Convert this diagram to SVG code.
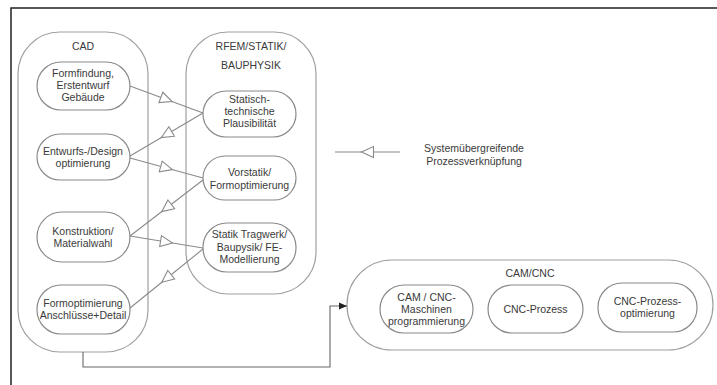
<svg xmlns="http://www.w3.org/2000/svg" width="717" height="385" viewBox="0 0 717 385">
<defs>
<style>
text{font-family:"Liberation Sans",Arial,sans-serif;font-size:10.5px;fill:#3a3a3a;text-anchor:middle}
.cont{fill:#fff;stroke:#a0a0a0;stroke-width:1.2}
.node{fill:#fff;stroke:#8a8a8a;stroke-width:1.2}
.conn{fill:none;stroke:#8a8a8a;stroke-width:1.1}
.flow{fill:none;stroke:#666;stroke-width:1.1}
</style>
<marker id="tri" viewBox="-8 -8 16 16" refX="0" refY="0" markerWidth="16" markerHeight="16" markerUnits="userSpaceOnUse" orient="auto">
<path d="M-6,-5.5 L6,0 L-6,5.5 Z" fill="#fff" stroke="#8a8a8a" stroke-width="1.1"/>
</marker>
<marker id="head" viewBox="0 -4 8 8" refX="8" refY="0" markerWidth="8" markerHeight="8" markerUnits="userSpaceOnUse" orient="auto">
<path d="M0,-3.5 L8,0 L0,3.5 Z" fill="#222"/>
</marker>
</defs>
<rect width="717" height="385" fill="#fff"/>
<path d="M11,385 V8 H717" fill="none" stroke="#222" stroke-width="1.5"/>

<g id="cad">
<rect class="cont" x="18" y="32" width="130" height="320" rx="42"/>
<text x="83" y="50">CAD</text>
</g>
<g id="rfem">
<rect class="cont" x="186" y="32" width="130" height="262" rx="42"/>
<text x="251" y="50">RFEM/STATIK/</text>
<text x="251" y="69">BAUPHYSIK</text>
</g>
<g id="camcnc">
<rect class="cont" x="347" y="260" width="366" height="90" rx="45"/>
<text x="530" y="277">CAM/CNC</text>
</g>

<g id="formfindung">
<rect class="node" x="37" y="62" width="93" height="48" rx="24"/>
<text x="83" y="77">Formfindung,</text>
<text x="83" y="89">Erstentwurf</text>
<text x="83" y="101">Gebäude</text>
</g>
<g id="entwurf">
<rect class="node" x="37" y="134" width="93" height="46" rx="23"/>
<text x="83" y="155">Entwurfs-/Design</text>
<text x="83" y="167">optimierung</text>
</g>
<g id="konstruktion">
<rect class="node" x="37" y="212" width="93" height="50" rx="25"/>
<text x="83" y="235">Konstruktion/</text>
<text x="83" y="247">Materialwahl</text>
</g>
<g id="formopt">
<rect class="node" x="37" y="285" width="93" height="49" rx="24"/>
<text x="83" y="307">Formoptimierung</text>
<text x="83" y="319">Anschlüsse+Detail</text>
</g>

<g id="statisch">
<rect class="node" x="203" y="91" width="93" height="46" rx="23"/>
<text x="249.5" y="103">Statisch-</text>
<text x="249.5" y="115">technische</text>
<text x="249.5" y="127">Plausibilität</text>
</g>
<g id="vorstatik">
<rect class="node" x="203" y="156" width="93" height="44" rx="22"/>
<text x="249.5" y="176">Vorstatik/</text>
<text x="249.5" y="189">Formoptimierung</text>
</g>
<g id="tragwerk">
<rect class="node" x="203" y="223" width="93" height="49" rx="24"/>
<text x="249.5" y="238">Statik Tragwerk/</text>
<text x="249.5" y="251">Baupysik/ FE-</text>
<text x="249.5" y="263">Modellierung</text>
</g>

<g id="cam">
<rect class="node" x="380" y="285" width="93" height="48" rx="24"/>
<text x="426.5" y="301">CAM / CNC-</text>
<text x="426.5" y="313">Maschinen</text>
<text x="426.5" y="325">programmierung</text>
</g>
<g id="cncprozess">
<rect class="node" x="488" y="285" width="95" height="48" rx="24"/>
<text x="535.5" y="313">CNC-Prozess</text>
</g>
<g id="cncopt">
<rect class="node" x="598" y="283" width="99" height="49" rx="24"/>
<text x="647.5" y="305">CNC-Prozess-</text>
<text x="647.5" y="317">optimierung</text>
</g>

<g id="legend">
<text x="474" y="152">Systemübergreifende</text>
<text x="474" y="165">Prozessverknüpfung</text>
</g>

<g id="connectors">
<path class="conn" marker-mid="url(#tri)" d="M130,86 L166.5,99.5 L203,113"/>
<path class="conn" marker-mid="url(#tri)" d="M203,113 L166.5,134.5 L130,156"/>
<path class="conn" marker-mid="url(#tri)" d="M130,158 L166.5,168 L203,178"/>
<path class="conn" marker-mid="url(#tri)" d="M203,180 L166.5,208 L130,236"/>
<path class="conn" marker-mid="url(#tri)" d="M130,236 L166.5,242 L203,248"/>
<path class="conn" marker-mid="url(#tri)" d="M203,249 L166.5,278.5 L130,308"/>
<path class="conn" marker-mid="url(#tri)" d="M400,152 L367.5,152 L335,152"/>
<path class="flow" marker-end="url(#head)" d="M83,352 V367 H330 V306 H347"/>
</g>
</svg>
